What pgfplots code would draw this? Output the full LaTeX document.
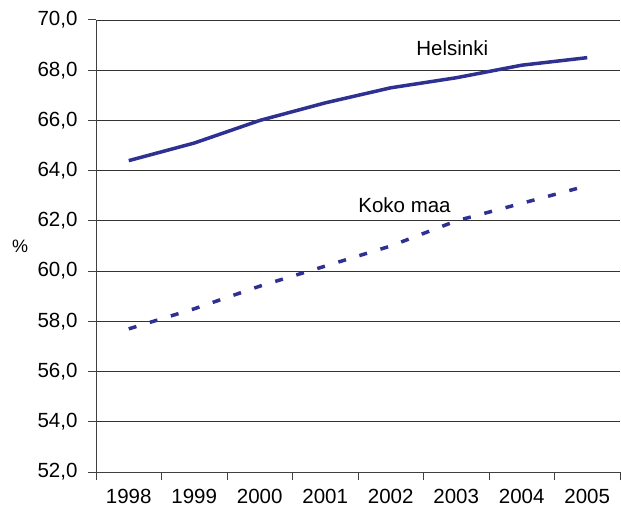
\documentclass[border=0pt]{standalone}
\usepackage{fontspec}
\setmainfont{Liberation Sans}
\usepackage{pgfplots}
\pgfplotsset{compat=1.18}
\definecolor{lineblue}{RGB}{46,49,146}
\begin{document}
\begin{tikzpicture}
\useasboundingbox (0bp,0bp) rectangle (621bp,515bp);
\begin{axis}[
  at={(96bp,43bp)}, anchor=south west,
  width=524bp, height=452bp, scale only axis,
  xmin=-0.5, xmax=7.5, ymin=52, ymax=70,
  axis x line=bottom, axis y line=left,
  axis line style={-, black!75, line width=1bp},
  tick style={black!75, line width=1bp},
  tick align=outside, major tick length=8bp,
  ytick={52,54,...,70},
  ymajorgrids, grid style={black!80, line width=0.8bp},
  xtick={-0.5,0.5,...,7.5}, xticklabels={},
  extra x ticks={0,...,7},
  extra x tick labels={1998,1999,2000,2001,2002,2003,2004,2005},
  extra x tick style={major tick length=0pt, xticklabel style={yshift=-14bp}},
  /pgf/number format/.cd, use comma, fixed, fixed zerofill, precision=1, assume math mode=true,
  /pgfplots/.cd,
  tick label style={font=\fontsize{20.5bp}{24bp}\selectfont},
  yticklabel style={xshift=-7bp},
  ylabel={\%},
  ylabel style={rotate=-90, at={(axis description cs:-0.145,0.5)}, anchor=center, font=\fontsize{18bp}{22bp}\selectfont},
]
% Helsinki
\addplot [lineblue, line width=3.5bp] coordinates {
(0,64.4) (1,65.1) (2,66.0) (3,66.7) (4,67.3) (5,67.7) (6,68.2) (7,68.5)
};
% Koko maa
\addplot [lineblue, line width=3.5bp, dash pattern=on 8bp off 14bp] coordinates {
(0,57.7) (1,58.5) (2,59.4) (3,60.2) (4,61.0) (5,62.0) (6,62.7) (7,63.4)
};
\node [font=\fontsize{20.5bp}{24bp}\selectfont] at (axis cs:4.94,68.86) {Helsinki};
\node [font=\fontsize{20.5bp}{24bp}\selectfont] at (axis cs:4.21,62.63) {Koko maa};
\end{axis}
\end{tikzpicture}
\end{document}
